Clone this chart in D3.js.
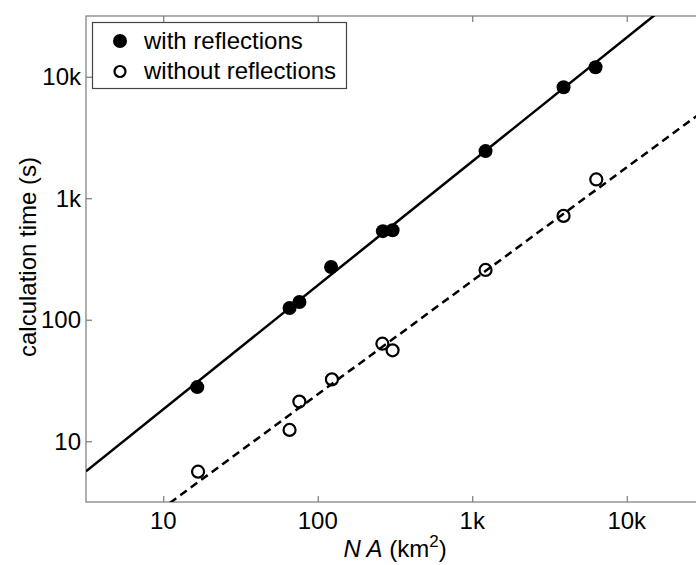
<!DOCTYPE html>
<html><head><meta charset="utf-8">
<script src="https://cdn.jsdelivr.net/npm/d3@7"></script>
<style>
html,body{margin:0;padding:0;background:#fff;}
text{font-family:"Liberation Sans",Arial,Helvetica,sans-serif;}
</style></head>
<body>
<svg id="chart" width="696" height="565"></svg>
<script>
// ---- data ----
const areaWith      = [16.6, 65.7, 76.1, 122, 264, 305, 1219, 3899, 6281];
const timeWith      = [27.9, 125, 140, 272, 536, 546, 2443, 8185, 11970];
const areaWithout   = [16.8, 65.7, 76.0, 123.5, 262, 305, 1219, 3899, 6350];
const timeWithout   = [5.62, 12.4, 21.2, 32.3, 63.5, 56.0, 257, 716, 1429];
// power-law fits  time = coef * area^exp
const fitWith    = [1.75, 1.02];
const fitWithout = [0.33, 0.934];
const xTicks = [10, 100, 1000, 10000];
const xTickLabels = ["10", "100", "1k", "10k"];
const yTicks = [10, 100, 1000, 10000];
const yTickLabels = ["10", "100", "1k", "10k"];
const seriesNames = ["with reflections", "without reflections"];

// ---- layout ----
const svg = d3.select("#chart");
const L = 86, R = 704, T = 16, B = 502;
const domain = [Math.pow(10, 0.5), Math.pow(10, 4.5)];
const x = d3.scaleLog().domain(domain).range([L, R]);
const y = d3.scaleLog().domain(domain).range([B, T]);
const axisColor = "#7a7a7a";
const fs = 24;

svg.append("defs").append("clipPath").attr("id", "clip")
  .append("rect").attr("x", L).attr("y", T).attr("width", R - L).attr("height", B - T);

// box
svg.append("rect").attr("x", L).attr("y", T).attr("width", R - L).attr("height", B - T)
  .attr("fill", "none").attr("stroke", axisColor).attr("stroke-width", 1.2);

// axes (inward ticks) with d3 axes
const xAxisB = d3.axisTop(x).tickValues(xTicks).tickSize(6).tickFormat("");
const xAxisT = d3.axisBottom(x).tickValues(xTicks).tickSize(6).tickFormat("");
const yAxisL = d3.axisRight(y).tickValues(yTicks).tickSize(6).tickFormat("");
const yAxisR = d3.axisLeft(y).tickValues(yTicks).tickSize(6).tickFormat("");
function styleAxis(g){ g.select(".domain").remove(); g.selectAll("line").attr("stroke", axisColor).attr("stroke-width", 1.2); }
svg.append("g").attr("transform", `translate(0,${B})`).call(xAxisB).call(styleAxis);
svg.append("g").attr("transform", `translate(0,${T})`).call(xAxisT).call(styleAxis);
svg.append("g").attr("transform", `translate(${L},0)`).call(yAxisL).call(styleAxis);
svg.append("g").attr("transform", `translate(${R},0)`).call(yAxisR).call(styleAxis);

// tick labels
svg.append("g").selectAll("text").data(xTicks).join("text")
  .attr("x", d => x(d)).attr("y", 529).attr("text-anchor", "middle")
  .attr("font-size", fs).attr("fill", "#000").text((d, i) => xTickLabels[i]);
svg.append("g").selectAll("text").data(yTicks).join("text")
  .attr("x", 81).attr("y", d => y(d)).attr("dy", "0.35em").attr("text-anchor", "end")
  .attr("font-size", fs).attr("fill", "#000").text((d, i) => yTickLabels[i]);

// axis titles
const xl = svg.append("text").attr("x", 395).attr("y", 557).attr("text-anchor", "middle")
  .attr("font-size", fs).attr("fill", "#000");
xl.append("tspan").attr("font-style", "italic").text("N A");
xl.append("tspan").text(" (km");
xl.append("tspan").attr("font-size", 17).attr("dy", -10).text("2");
xl.append("tspan").attr("dy", 10).text(")");

svg.append("text").attr("transform", `translate(36,${(T + B) / 2 - 2}) rotate(-90)`)
  .attr("text-anchor", "middle").attr("font-size", fs).attr("fill", "#000")
  .text("calculation time (s)");

// fit lines
const plot = svg.append("g").attr("clip-path", "url(#clip)");
function fitPts(f){ return domain.map(a => [a, f[0] * Math.pow(a, f[1])]); }
const line = d3.line().x(d => x(d[0])).y(d => y(d[1]));
plot.append("path").attr("d", line(fitPts(fitWith)))
  .attr("fill", "none").attr("stroke", "#000").attr("stroke-width", 2.5);
plot.append("path").attr("d", line(fitPts(fitWithout)))
  .attr("fill", "none").attr("stroke", "#000").attr("stroke-width", 2.5)
  .attr("stroke-dasharray", "8,5");

// markers
plot.append("g").selectAll("circle").data(areaWith).join("circle")
  .attr("cx", d => x(d)).attr("cy", (d, i) => y(timeWith[i])).attr("r", 7)
  .attr("fill", "#000");
plot.append("g").selectAll("circle").data(areaWithout).join("circle")
  .attr("cx", d => x(d)).attr("cy", (d, i) => y(timeWithout[i])).attr("r", 6)
  .attr("fill", "none").attr("stroke", "#000").attr("stroke-width", 2.2);

// legend
const lg = svg.append("g");
lg.append("rect").attr("x", 92.5).attr("y", 22.5).attr("width", 254).attr("height", 66)
  .attr("fill", "#fff").attr("stroke", "#444").attr("stroke-width", 1.2);
lg.append("circle").attr("cx", 120).attr("cy", 41).attr("r", 7).attr("fill", "#000");
lg.append("circle").attr("cx", 120).attr("cy", 71.5).attr("r", 5.5)
  .attr("fill", "none").attr("stroke", "#000").attr("stroke-width", 2.2);
lg.append("text").attr("x", 144).attr("y", 49).attr("font-size", fs).text(seriesNames[0]);
lg.append("text").attr("x", 144).attr("y", 79).attr("font-size", fs).text(seriesNames[1]);
</script>
</body></html>
